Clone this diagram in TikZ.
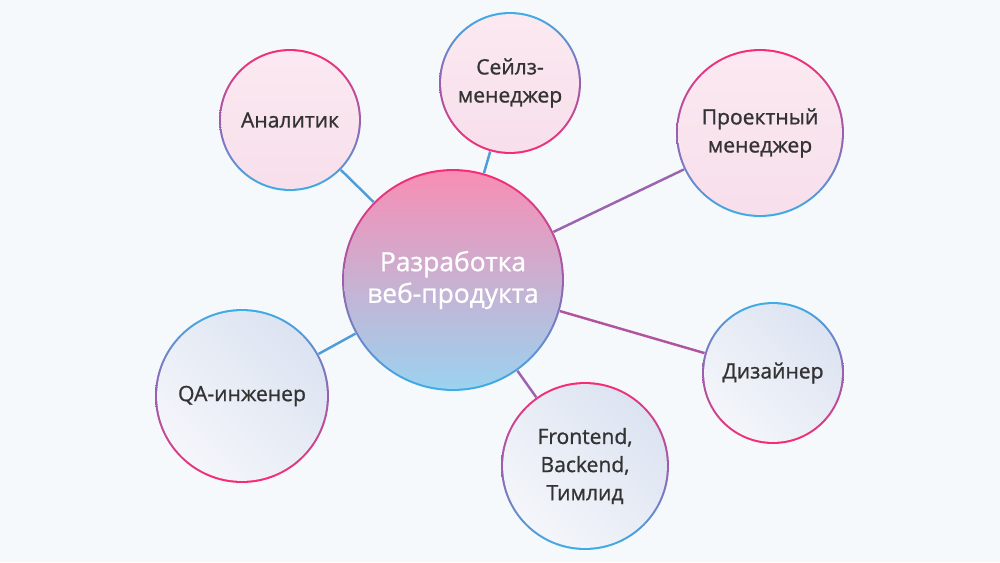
\documentclass[tikz,border=0pt]{standalone}
\usepackage{fontspec}
\setmainfont{Open Sans}[FakeBold=1]
\definecolor{bgc}{HTML}{F5F9FC}
\definecolor{rimpink}{HTML}{FA2A72}
\definecolor{rimmid}{HTML}{9A5FAE}
\definecolor{rimblue}{HTML}{3BAEE6}
\definecolor{fillpink}{HTML}{FBE9F1}
\definecolor{fillpinkb}{HTML}{F7DFEB}
\definecolor{fillgrey}{HTML}{DCE3F1}
\definecolor{fillgreyb}{HTML}{F4F6FA}
\definecolor{hubtop}{HTML}{F98DB3}
\definecolor{hubbot}{HTML}{9AD3F0}
\definecolor{linkblue}{HTML}{4F9DD8}
\definecolor{linkviolet}{HTML}{9B63B0}
\definecolor{linkmag}{HTML}{B0549F}
\definecolor{txt}{HTML}{333333}
\tikzset{
  bub/.style={circle, inner sep=0pt, minimum size=#1*0.04cm, text=txt, align=center,
    font=\fontsize{12}{16}\selectfont},
  pinkdown/.style={top color=rimpink, bottom color=rimblue, middle color=rimmid},
  bluedown/.style={top color=rimblue, bottom color=rimpink, middle color=rimmid},
  pinkfill/.style={path picture={\shade[top color=fillpink, bottom color=fillpinkb]
    (path picture bounding box.center) circle [radius=#1*0.02cm-1.2pt];}},
  greyfill/.style={path picture={\shade[top color=fillgrey, bottom color=fillgreyb, shading angle=-45]
    (path picture bounding box.center) circle [radius=#1*0.02cm-1.2pt];}},
  link/.style={line width=1.4pt}
}
\begin{document}
\begin{tikzpicture}[x=0.02cm, y=-0.02cm]
  \fill[bgc] (0,0) rectangle (1000,562);
  \useasboundingbox (0,0) rectangle (1000,562);
  % hub
  \node[bub=111, pinkdown, text=white, font=\fontsize{15}{18}\selectfont,
    path picture={\shade[top color=hubtop, bottom color=hubbot]
      (path picture bounding box.center) circle [radius=111*0.02cm-1.2pt];}]
    (hub) at (453,280) {Разработка\\веб-продукта};
  % roles
  \node[bub=71, pinkdown, pinkfill=71] (analyst) at (290,120) {Аналитик};
  \node[bub=71, bluedown, pinkfill=71] (sales) at (510,83) {Сейлз-\\менеджер};
  \node[bub=84, pinkdown, pinkfill=84] (pm) at (760,133) {Проектный\\менеджер};
  \node[bub=71, bluedown, greyfill=71] (designer) at (773,373) {Дизайнер};
  \node[bub=84, pinkdown, greyfill=84] (dev) at (585,466) {Frontend,\\Backend,\\Тимлид};
  \node[bub=87, bluedown, greyfill=87] (qa) at (242,396) {QA-инженер};
  % links
  \draw[link, linkblue] (hub) -- (analyst);
  \draw[link, linkblue] (hub) -- (sales);
  \draw[link, linkviolet] (hub) -- (pm);
  \draw[link, linkmag] (hub) -- (designer);
  \draw[link, linkviolet] (hub) -- (dev);
  \draw[link, linkblue] (hub) -- (qa);
\end{tikzpicture}
\end{document}
